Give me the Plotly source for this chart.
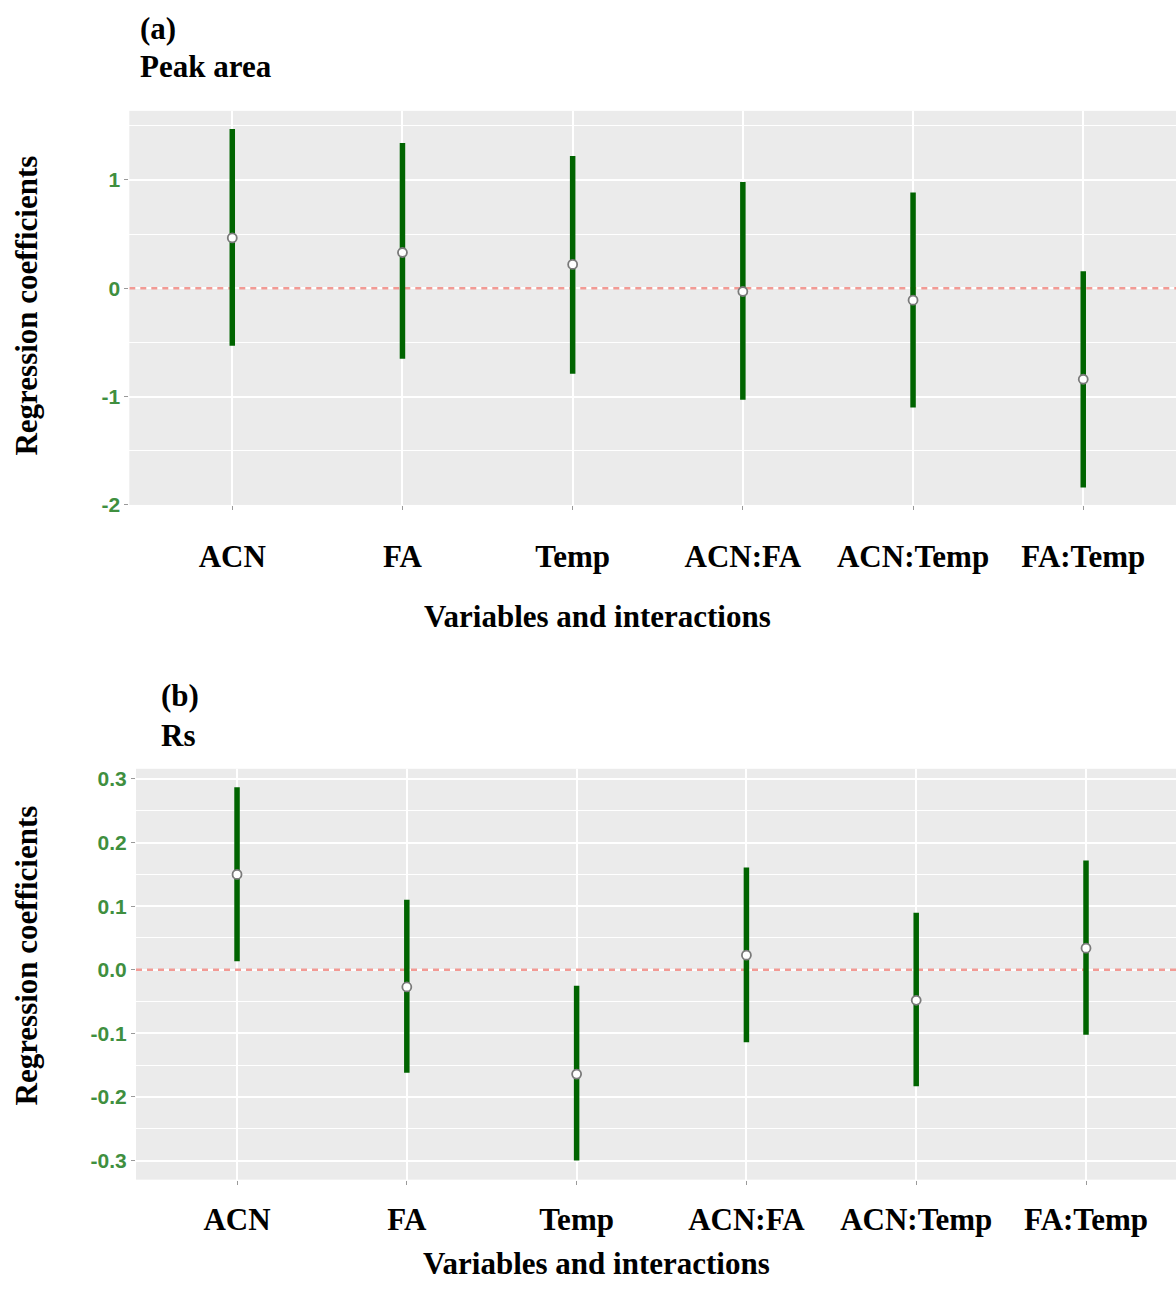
import plotly.graph_objects as go

# ---- data ----
categories = ["ACN", "FA", "Temp", "ACN:FA", "ACN:Temp", "FA:Temp"]

peak_est = [0.465, 0.33, 0.22, -0.03, -0.11, -0.84]
peak_low = [-0.53, -0.65, -0.79, -1.03, -1.10, -1.84]
peak_high = [1.47, 1.34, 1.22, 0.98, 0.885, 0.157]

rs_est = [0.150, -0.027, -0.164, 0.023, -0.048, 0.034]
rs_low = [0.0135, -0.162, -0.300, -0.114, -0.183, -0.102]
rs_high = [0.287, 0.110, -0.025, 0.161, 0.0895, 0.172]

peak_ticks = [-2, -1, 0, 1]
rs_ticks = [-0.3, -0.2, -0.1, 0.0, 0.1, 0.2, 0.3]
rs_ticktext = ["-0.3", "-0.2", "-0.1", "0.0", "0.1", "0.2", "0.3"]

W, H = 1176, 1289
H_EFF = 1279  # effective rendered paper height observed
pos = list(range(1, len(categories) + 1))

SERIF = "Liberation Serif, Times New Roman, serif"
TICKGREEN = "#3f8f3f"
LINEGREEN = "#006400"
PANEL = "#EBEBEB"

XR_A = [0.395, 6.545]
XR_B = [0.405, 6.53]

fig = go.Figure()


def add_panel(est, low, high, xa, ya, xr):
    # zero reference line (drawn first so bars sit on top)
    fig.add_trace(go.Scatter(
        x=xr, y=[0, 0], xaxis=xa, yaxis=ya, mode="lines",
        line=dict(color="#f29a94", width=2.4, dash="6px,5px"),
        showlegend=False, hoverinfo="skip"))
    fig.add_trace(go.Scatter(
        x=pos, y=est, xaxis=xa, yaxis=ya, mode="markers",
        marker=dict(size=9, color="white", line=dict(color="#7a7a7a", width=1.8)),
        error_y=dict(type="data", symmetric=False,
                     array=[h - e for h, e in zip(high, est)],
                     arrayminus=[e - l for e, l in zip(est, low)],
                     color=LINEGREEN, thickness=5.5, width=0),
        showlegend=False, hoverinfo="skip"))


add_panel(peak_est, peak_low, peak_high, "x", "y", XR_A)
add_panel(rs_est, rs_low, rs_high, "x2", "y2", XR_B)


def px(xp):
    return xp / W


def py(yp):
    return 1 - yp / H_EFF


xcommon = dict(tickvals=pos, ticktext=categories, showgrid=True, gridcolor="white",
               gridwidth=1.5, zeroline=False, ticks="outside", ticklen=4,
               tickcolor="#9a9a9a", tickwidth=1.2, showline=False,
               tickfont=dict(family=SERIF, size=31, color="black", weight="bold"))

ycommon = dict(showgrid=True, gridcolor="white", gridwidth=1.5, zeroline=False,
               ticks="outside", ticklen=4, tickcolor="#9a9a9a", tickwidth=1.2,
               tickfont=dict(family="Liberation Sans, Arial, sans-serif", size=21,
                             color=TICKGREEN, weight="bold"))

fig.update_layout(
    width=W, height=H, margin=dict(l=0, r=0, t=0, b=0),
    paper_bgcolor="white", plot_bgcolor=PANEL,
    xaxis=dict(xcommon, domain=[px(129.3), 1], range=XR_A, anchor="y", ticklabelstandoff=20),
    yaxis=dict(ycommon, domain=[py(504.7), py(110)], range=[-2.0, 1.638], anchor="x",
               tickvals=peak_ticks, ticktext=[str(t) for t in peak_ticks],
               minor=dict(dtick=0.5, tick0=0, showgrid=True, gridcolor="white", gridwidth=0.8)),
    xaxis2=dict(xcommon, domain=[px(136), 1], range=XR_B, anchor="y2", ticklabelstandoff=8),
    yaxis2=dict(ycommon, domain=[py(1180.5), py(769)], range=[-0.330, 0.316], anchor="x2",
                tickvals=rs_ticks, ticktext=rs_ticktext,
                minor=dict(dtick=0.05, tick0=0, showgrid=True, gridcolor="white", gridwidth=0.8)),
)

# panel labels
for txt, xp, yp in [("(a)", 138, 28), ("Peak area", 138, 66), ("(b)", 159, 696), ("Rs", 159, 736)]:
    fig.add_annotation(text=f"<b>{txt}</b>", x=px(xp), y=py(yp), xref="paper", yref="paper",
                       xanchor="left", yanchor="middle", showarrow=False,
                       font=dict(family=SERIF, size=31, color="black"))

# axis titles
for xp, yp in [(597, 616), (596, 1264)]:
    fig.add_annotation(text="<b>Variables and interactions</b>", x=px(xp), y=py(yp),
                       xref="paper", yref="paper", xanchor="center", yanchor="middle",
                       showarrow=False, font=dict(family=SERIF, size=31, color="black"))
for xp, yp in [(27, 305), (27, 956)]:
    fig.add_annotation(text="<b>Regression coefficients</b>", x=px(xp), y=py(yp),
                       xref="paper", yref="paper", xanchor="center", yanchor="middle",
                       textangle=-90, showarrow=False,
                       font=dict(family=SERIF, size=31, color="black"))

fig.write_html("out.html", config={"displayModeBar": False},
               post_script="document.body.style.margin='0';document.documentElement.style.overflow='hidden';")
